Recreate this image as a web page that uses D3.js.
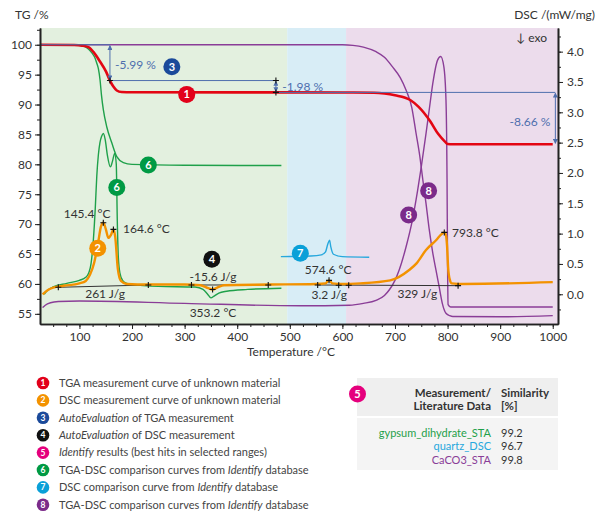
<!DOCTYPE html>
<html>
<head>
<meta charset="utf-8">
<script src="https://cdn.jsdelivr.net/npm/d3@7"></script>
<style>
  body { margin: 0; background: #fff; }
  svg { font-family: Lato, "Open Sans", sans-serif; }
  .axis path, .axis line { stroke: #222; }
  .axis text { fill: #333; font-size: 12px; font-family: Lato, sans-serif; }
</style>
</head>
<body>
<div id="chart"></div>
<script>
// temperature ranges of the shaded backgrounds
var regionStart = [25, 495, 607];
var regionEnd = [495, 607, 1010];
var regionColor = ["#e3f0df", "#d8edf6", "#ecdcec"];

// 1: TGA of unknown material (red)
var tgaT = [25, 90, 105, 117, 126.5, 139, 150.6, 158, 164.5, 171, 180, 200, 400, 600, 660, 680, 700, 729, 745, 767, 782, 795, 800, 810, 1000];
var tgaV = [100, 99.95, 99.85, 99.6, 98.8, 97.2, 95.5, 94.0, 93.0, 92.35, 92.1, 92.05, 92.04, 92.02, 91.98, 91.85, 91.55, 90.76, 89.6, 87.2, 85.1, 83.8, 83.4, 83.37, 83.37];

// 2: DSC of unknown material (orange)
var dscT = [30, 40, 50, 70, 100, 112, 120, 128, 135, 141, 145.4, 150, 155, 160, 164.6, 168, 173, 179, 190, 230, 300, 330, 345, 353.2, 362, 375, 460, 550, 568, 574.6, 581, 600, 634, 691, 727, 741, 759, 779, 787, 793.8, 797, 799, 801, 804, 808, 830, 1000];
var dscV = [0.0, 0.07, 0.11, 0.14, 0.18, 0.22, 0.32, 0.52, 0.82, 1.12, 1.18, 1.08, 0.93, 0.98, 1.07, 0.95, 0.42, 0.22, 0.17, 0.16, 0.16, 0.15, 0.1, 0.08, 0.11, 0.15, 0.16, 0.17, 0.18, 0.23, 0.18, 0.17, 0.18, 0.23, 0.4, 0.51, 0.73, 0.9, 0.98, 1.02, 0.97, 0.8, 0.45, 0.25, 0.18, 0.17, 0.2];

// 6: gypsum_dihydrate_STA (green)
var gypTgaT = [25, 90, 105, 112, 118, 124, 129, 133, 136, 139.2, 142, 145.5, 152, 161.5, 171, 183.5, 200, 300, 484];
var gypTgaV = [100, 99.97, 99.85, 99.6, 99.2, 98.6, 97.9, 96.9, 96.0, 94.1, 91.5, 89.1, 86.25, 83.6, 81.3, 80.3, 80.0, 79.85, 79.8];
var gypDscT = [33, 40, 50, 76, 100, 112, 118, 122, 126.5, 130, 133, 136, 139, 142, 145.5, 149, 153, 159, 163, 167, 170, 172, 174, 177, 182, 190, 200, 250, 320, 335, 343, 350, 356, 365, 380, 420, 484];
var gypDscV = [0.0, 0.07, 0.12, 0.18, 0.23, 0.28, 0.36, 0.5, 0.9, 1.4, 1.95, 2.3, 2.5, 2.6, 2.65, 2.55, 2.3, 2.1, 2.2, 2.32, 2.15, 1.2, 0.6, 0.35, 0.23, 0.18, 0.16, 0.13, 0.12, 0.08, 0.01, -0.06, -0.03, 0.02, 0.05, 0.08, 0.1];

// 7: quartz_DSC (cyan)
var qtzT = [483, 540, 560, 568, 572, 575.6, 578, 583, 600, 651];
var qtzV = [0.62, 0.63, 0.65, 0.7, 0.82, 0.89, 0.78, 0.66, 0.62, 0.61];

// 8: CaCO3_STA (purple)
var calTgaT = [25, 600, 620, 640, 664, 680, 695, 710, 721, 732, 740, 747, 753, 759, 765, 772, 778, 784, 790, 797, 804, 810, 900, 1000];
var calTgaV = [100, 100, 99.9, 99.6, 98.83, 97.9, 96.33, 94.5, 92.43, 89.5, 85.24, 81.5, 77.38, 73.48, 69.2, 65.12, 62.3, 59.54, 56.76, 55.09, 54.7, 54.55, 54.5, 54.7];
var calDscT = [30, 35, 45, 60, 100, 300, 520, 613, 640, 664, 680, 689, 700, 708, 721, 733, 743, 750, 759, 766, 772, 781, 787, 793, 797, 799, 800, 801, 806, 1000];
var calDscV = [-0.22, -0.18, -0.14, -0.12, -0.11, -0.15, -0.19, -0.18, -0.15, -0.1, -0.02, 0.07, 0.23, 0.4, 0.78, 1.22, 1.71, 2.1, 2.65, 3.1, 3.48, 3.86, 3.92, 3.75, 3.2, 1.9, 0.5, -0.17, -0.21, -0.21];

// AutoEvaluation of DSC: integration baselines and markers
var dscBaseStart = [[59.8, 0.115], [313, 0.153], [553, 0.153]];
var dscBaseEnd = [[231, 0.153], [459, 0.153], [820, 0.142]];
var dscMarks = [[59.8, 0.115], [231, 0.153], [313, 0.153], [459, 0.153], [553, 0.153], [593, 0.15], [612, 0.15], [820, 0.142],
                [145.4, 1.18], [164.6, 1.07], [353.2, 0.08], [574.6, 0.23], [793.8, 1.02]];
var dscLabels = ["145.4 °C", "164.6 °C", "-15.6 J/g", "353.2 °C", "261 J/g", "574.6 °C", "3.2 J/g", "329 J/g", "793.8 °C"];
var dscLabelPos = [[114.5, 1.32], [183, 1.08], [354, 0.285], [354, -0.3], [148.7, 0.0], [573, 0.4], [575, -0.01], [742.5, 0.005], [808.6, 1.015]];
var dscLabelAnchor = ["middle", "start", "middle", "middle", "middle", "middle", "middle", "middle", "start"];

// AutoEvaluation of TGA: step levels
var stepT = [158, 473.6, 1005];
var stepLevel = [100, 94.01, 92.03, 83.37];
var stepLabels = ["-5.99 %", "-1.98 %", "-8.66 %"];
var stepLabelPos = [[167.7, 96.6], [485.6, 92.93], [995.7, 87.1]];

// numbered badges: [number, temperature, value, axis]
var badgeNum = [1, 3, 6, 6, 2, 4, 7, 8, 8];
var badgePos = [[304, 91.7, "tg"], [275.7, 96.33, "tg"], [231, 79.9, "tg"], [171, 1.76, "dsc"], [134.8, 0.758, "dsc"],
                [351.8, 0.577, "dsc"], [520, 0.676, "dsc"], [726, 1.307, "dsc"], [764, 1.708, "dsc"]];
var badgeColor = {1: "#e2001a", 2: "#f39200", 3: "#1b4a9a", 4: "#111111", 5: "#e5007d", 6: "#009a44", 7: "#0aa0d8", 8: "#7b2b8a"};

var legendText = [
  "TGA measurement curve of unknown material",
  "DSC measurement curve of unknown material",
  "*AutoEvaluation* of TGA measurement",
  "*AutoEvaluation* of DSC measurement",
  "*Identify* results (best hits in selected ranges)",
  "TGA-DSC comparison curves from *Identify* database",
  "DSC comparison curve from *Identify* database",
  "TGA-DSC comparison curves from *Identify* database"
];

var tableNames = ["gypsum_dihydrate_STA", "quartz_DSC", "CaCO3_STA"];
var tableScores = ["99.2", "96.7", "99.8"];
var tableColors = ["#1fa04a", "#27a8dd", "#8a3d97"];

var W = 600, H = 520;
var svg = d3.select("#chart").append("svg").attr("width", W).attr("height", H);

var x = d3.scaleLinear().domain([25, 1010]).range([40, 558]);
var yTG = d3.scaleLinear().domain([53.3, 102.8]).range([324, 28]);
var yDSC = d3.scaleLinear().domain([-0.49, 4.39]).range([324, 28]);

// backgrounds
svg.selectAll("rect.region").data(regionStart).enter().append("rect")
  .attr("class", "region")
  .attr("x", function(d) { return x(d); })
  .attr("y", 28)
  .attr("width", function(d, i) { return x(regionEnd[i]) - x(d); })
  .attr("height", 296)
  .attr("fill", function(d, i) { return regionColor[i]; });

function zip(a, b) { return a.map(function(t, i) { return [t, b[i]]; }); }
var lineTG = d3.line().x(function(d) { return x(d[0]); }).y(function(d) { return yTG(d[1]); }).curve(d3.curveMonotoneX);
var lineDSC = d3.line().x(function(d) { return x(d[0]); }).y(function(d) { return yDSC(d[1]); }).curve(d3.curveMonotoneX);

function curve(gen, data, color, w) {
  svg.append("path").attr("d", gen(data)).attr("fill", "none")
    .attr("stroke", color).attr("stroke-width", w).attr("stroke-linejoin", "round");
}

curve(lineDSC, zip(calDscT, calDscV), "#8a3d97", 1.4);
curve(lineTG, zip(calTgaT, calTgaV), "#8a3d97", 1.4);
curve(lineTG, zip(gypTgaT, gypTgaV), "#1fa04a", 1.4);
curve(lineDSC, zip(gypDscT, gypDscV), "#1fa04a", 1.4);
curve(lineDSC, zip(qtzT, qtzV), "#27a8dd", 1.4);

// DSC baselines
svg.selectAll("line.base").data(dscBaseStart).enter().append("line")
  .attr("x1", function(d) { return x(d[0]); }).attr("y1", function(d) { return yDSC(d[1]); })
  .attr("x2", function(d, i) { return x(dscBaseEnd[i][0]); }).attr("y2", function(d, i) { return yDSC(dscBaseEnd[i][1]); })
  .attr("stroke", "#333").attr("stroke-width", 1);

curve(lineDSC, zip(dscT, dscV), "#f39200", 2.4);
curve(lineTG, zip(tgaT, tgaV), "#e30613", 2.6);

// TGA step evaluation
var evalColor = "#4f6fae";
var defs = svg.append("defs");
defs.append("marker").attr("id", "arr").attr("viewBox", "0 0 6 6").attr("refX", 5).attr("refY", 3)
  .attr("markerWidth", 5).attr("markerHeight", 5).attr("orient", "auto-start-reverse")
  .append("path").attr("d", "M0,0L6,3L0,6Z").attr("fill", evalColor);

var prevT = 25;
stepT.forEach(function(t, i) {
  svg.append("line").attr("x1", x(prevT)).attr("x2", x(t))
    .attr("y1", yTG(stepLevel[i])).attr("y2", yTG(stepLevel[i]))
    .attr("stroke", evalColor).attr("stroke-width", 1);
  svg.append("line").attr("x1", x(t)).attr("x2", x(t))
    .attr("y1", yTG(stepLevel[i]) + 1).attr("y2", yTG(stepLevel[i + 1]) - 1)
    .attr("stroke", evalColor).attr("stroke-width", 1)
    .attr("marker-start", "url(#arr)").attr("marker-end", "url(#arr)");
  prevT = t;
});
svg.selectAll("text.step").data(stepLabels).enter().append("text")
  .attr("x", function(d, i) { return x(stepLabelPos[i][0]); })
  .attr("y", function(d, i) { return yTG(stepLabelPos[i][1]); })
  .attr("dy", "0.35em")
  .attr("text-anchor", function(d, i) { return i == 2 ? "end" : "start"; })
  .attr("fill", evalColor).attr("font-size", 12).text(function(d) { return d; });

// crosses
function cross(px, py) {
  svg.append("path").attr("d", "M" + (px - 3) + "," + py + "h6M" + px + "," + (py - 3) + "v6")
    .attr("stroke", "#111").attr("stroke-width", 1.1);
}
dscMarks.forEach(function(d) { cross(x(d[0]), yDSC(d[1])); });
cross(x(stepT[0]), yTG(stepLevel[1]));
cross(x(stepT[1]), yTG(stepLevel[2]));
cross(x(stepT[1]), yTG(stepLevel[1]));

svg.selectAll("text.dsclab").data(dscLabels).enter().append("text")
  .attr("x", function(d, i) { return x(dscLabelPos[i][0]); })
  .attr("y", function(d, i) { return yDSC(dscLabelPos[i][1]); })
  .attr("dy", "0.35em")
  .attr("text-anchor", function(d, i) { return dscLabelAnchor[i]; })
  .attr("fill", "#333").attr("font-size", 12).text(function(d) { return d; });

// badges
function badge(cx, cy, n, r, fs) {
  svg.append("circle").attr("cx", cx).attr("cy", cy).attr("r", r).attr("fill", badgeColor[n]);
  svg.append("text").attr("x", cx).attr("y", cy).attr("dy", "0.36em").attr("text-anchor", "middle")
    .attr("fill", "#fff").attr("font-size", fs).attr("font-weight", "bold").text(n);
}
badgeNum.forEach(function(n, i) {
  var p = badgePos[i];
  badge(x(p[0]), p[2] == "tg" ? yTG(p[1]) : yDSC(p[1]), n, 8.5, 11);
});

// axes
svg.append("g").attr("class", "axis").attr("transform", "translate(0,324)")
  .call(d3.axisBottom(x).tickValues(d3.range(100, 1001, 100)).tickSize(5).tickPadding(3).tickFormat(d3.format("d")).tickSizeOuter(0));
svg.append("g").attr("class", "axis").attr("transform", "translate(0,324)")
  .call(d3.axisBottom(x).tickValues(d3.range(50, 1001, 25)).tickSize(3).tickFormat("").tickSizeOuter(0));

svg.append("g").attr("class", "axis").attr("transform", "translate(40,0)")
  .call(d3.axisLeft(yTG).tickValues(d3.range(55, 101, 5)).tickSize(5).tickPadding(3).tickSizeOuter(0));
svg.append("g").attr("class", "axis").attr("transform", "translate(40,0)")
  .call(d3.axisLeft(yTG).tickValues(d3.range(55, 103, 2.5)).tickSize(3).tickFormat("").tickSizeOuter(0));

svg.append("g").attr("class", "axis").attr("transform", "translate(558,0)")
  .call(d3.axisRight(yDSC).tickValues(d3.range(0, 4.01, 0.5)).tickSize(5).tickPadding(4).tickFormat(d3.format(".1f")).tickSizeOuter(0));
svg.append("g").attr("class", "axis").attr("transform", "translate(558,0)")
  .call(d3.axisRight(yDSC).tickValues(d3.range(-0.25, 4.3, 0.25)).tickSize(3).tickFormat("").tickSizeOuter(0));
svg.selectAll(".axis path.domain").attr("stroke-width", 1.6);

svg.append("text").attr("x", 15).attr("y", 19).attr("font-size", 12).attr("fill", "#333").text("TG /%");
svg.append("text").attr("x", 595).attr("y", 19).attr("text-anchor", "end").attr("font-size", 12).attr("fill", "#333").text("DSC /(mW/mg)");
svg.append("text").attr("x", 291).attr("y", 356).attr("text-anchor", "middle").attr("font-size", 12).attr("fill", "#333").text("Temperature /°C");
svg.append("text").attr("x", 547).attr("y", 42).attr("text-anchor", "end").attr("font-size", 12).attr("fill", "#333").text("↓ exo");

// legend
var lg = svg.append("g").attr("transform", "translate(43,383)");
legendText.forEach(function(s, i) {
  var yy = i * 17.4;
  lg.append("circle").attr("cx", 0).attr("cy", yy).attr("r", 6.3).attr("fill", badgeColor[i + 1]);
  lg.append("text").attr("x", 0).attr("y", yy).attr("dy", "0.35em").attr("text-anchor", "middle")
    .attr("fill", "#fff").attr("font-size", 8.5).attr("font-weight", "bold").text(i + 1);
  var t = lg.append("text").attr("x", 16).attr("y", yy).attr("dy", "0.35em").attr("font-size", 11).attr("fill", "#444");
  s.split("*").forEach(function(part, k) {
    if (!part) return;
    t.append("tspan").attr("font-style", k % 2 ? "italic" : "normal").text(part);
  });
});

// Identify results table
var tb = svg.append("g");
tb.append("rect").attr("x", 357).attr("y", 378).attr("width", 201).attr("height", 38).attr("fill", "#efefef");
tb.append("rect").attr("x", 357).attr("y", 418).attr("width", 201).attr("height", 52).attr("fill", "#f4f4f4");
badge(357.5, 394, 5, 8.5, 11);
tb.append("text").attr("x", 491).attr("y", 397).attr("text-anchor", "end").attr("font-size", 11.5).attr("font-weight", "bold").attr("fill", "#333").text("Measurement/");
tb.append("text").attr("x", 491).attr("y", 410).attr("text-anchor", "end").attr("font-size", 11.5).attr("font-weight", "bold").attr("fill", "#333").text("Literature Data");
tb.append("text").attr("x", 501).attr("y", 397).attr("font-size", 11.5).attr("font-weight", "bold").attr("fill", "#333").text("Similarity");
tb.append("text").attr("x", 501).attr("y", 410).attr("font-size", 11.5).attr("font-weight", "bold").attr("fill", "#333").text("[%]");
tableNames.forEach(function(n, i) {
  var yy = 437 + i * 13.3;
  tb.append("text").attr("x", 491).attr("y", yy).attr("text-anchor", "end").attr("font-size", 11).attr("fill", tableColors[i]).text(n);
  tb.append("text").attr("x", 501).attr("y", yy).attr("font-size", 11).attr("fill", "#333").text(tableScores[i]);
});
</script>
</body>
</html>
